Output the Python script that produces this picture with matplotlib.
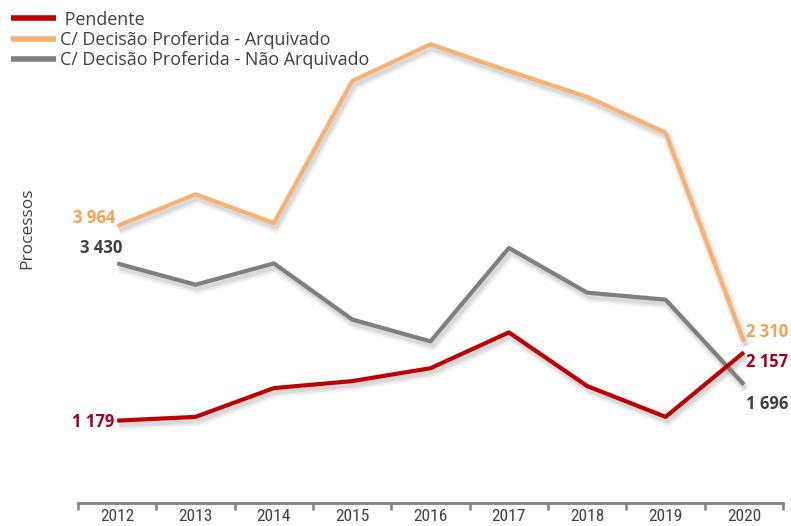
import matplotlib
matplotlib.use("Agg")
import matplotlib.pyplot as plt
import matplotlib.patheffects as pe

years = ["2012", "2013", "2014", "2015", "2016", "2017", "2018", "2019", "2020"]
pendente = [1179, 1233, 1645, 1745, 1930, 2442, 1674, 1233, 2157]
arquivado = [3964, 4419, 4007, 6041, 6567, 6183, 5813, 5301, 2310]
nao_arquivado = [3430, 3125, 3430, 2627, 2314, 3651, 3011, 2911, 1696]

series_names = [" Pendente", "C/ Decisão Proferida - Arquivado", "C/ Decisão Proferida - Não Arquivado"]
line_colors = ["#C00000", "#F9B172", "#7F7F7F"]
label_colors = ["#A50021", "#F7A253", "#404040"]

plt.rcParams['font.family'] = ['Open Sans', 'DejaVu Sans']

fig = plt.figure(figsize=(7.91, 5.26), dpi=100)
ax = fig.add_axes([0.0986, 0.0437, 0.8914, 0.9297])

x = list(range(len(years)))
shadow = [pe.SimpleLineShadow(offset=(1.5, -3.0), shadow_color='#808080', alpha=0.07, rho=1.0, linewidth=8),
          pe.SimpleLineShadow(offset=(1.5, -3.0), shadow_color='#808080', alpha=0.10, rho=1.0, linewidth=5.5),
          pe.SimpleLineShadow(offset=(1.5, -3.0), shadow_color='#808080', alpha=0.15, rho=1.0, linewidth=3),
          pe.Normal()]
all_series = [pendente, arquivado, nao_arquivado]
for idx in [1, 2, 0]:
    ax.plot(x, all_series[idx], color=line_colors[idx], lw=3.0, solid_capstyle='butt',
            label=series_names[idx], path_effects=shadow, zorder=3 + (idx == 0))

ax.set_xlim(-0.5, len(years) - 0.5)
ax.set_ylim(0, 7000)
ax.set_xticks([i - 0.5 for i in range(len(years) + 1)])
ax.set_xticklabels([])
ax.set_xticks(x, minor=True)
ax.set_xticklabels(years, minor=True, fontsize=12.5, color='#404040', family=['Roboto Condensed', 'Roboto', 'DejaVu Sans'])
ax.tick_params(axis='x', which='major', length=5, width=1.8, color='#808080', direction='out')
ax.tick_params(axis='x', which='minor', length=0, pad=4)
ax.set_yticks([])
for s in ['top', 'right', 'left']:
    ax.spines[s].set_visible(False)
ax.spines['bottom'].set_color('#808080')
ax.spines['bottom'].set_linewidth(2)
ax.patch.set_alpha(0)

fig.text(0.034, 0.567, "Processos", rotation=90, fontsize=12.5, color='#404040', ha='center', va='center')

def fmt(v):
    return f"{v:,}".replace(",", " ")

fs = 12
ax.annotate(fmt(arquivado[0]), (0, arquivado[0]), xytext=(-2, 8), textcoords='offset pixels',
            ha='right', va='center', fontsize=fs, fontweight='bold', color=label_colors[1])
ax.annotate(fmt(nao_arquivado[0]), (0, nao_arquivado[0]), xytext=(5, 15), textcoords='offset pixels',
            ha='right', va='center', fontsize=fs, fontweight='bold', color=label_colors[2])
ax.annotate(fmt(pendente[0]), (0, pendente[0]), xytext=(-3, -1), textcoords='offset pixels',
            ha='right', va='center', fontsize=fs, fontweight='bold', color=label_colors[0])
n = len(years) - 1
ax.annotate(fmt(arquivado[n]), (n, arquivado[n]), xytext=(2, 10), textcoords='offset pixels',
            ha='left', va='center', fontsize=fs, fontweight='bold', color=label_colors[1])
ax.annotate(fmt(pendente[n]), (n, pendente[n]), xytext=(2, -10), textcoords='offset pixels',
            ha='left', va='center', fontsize=fs, fontweight='bold', color=label_colors[0])
ax.annotate(fmt(nao_arquivado[n]), (n, nao_arquivado[n]), xytext=(2, -19), textcoords='offset pixels',
            ha='left', va='center', fontsize=fs, fontweight='bold', color=label_colors[2])

handles, labels = ax.get_legend_handles_labels()
order = [labels.index(nm) for nm in series_names]
leg = fig.legend([handles[i] for i in order], [labels[i] for i in order],
                 loc='upper left', bbox_to_anchor=(0.0, 1.0), frameon=False,
                 fontsize=12.9, handlelength=2.5, handletextpad=0.25, labelspacing=0.12,
                 borderaxespad=0.3, borderpad=0.3)
for t in leg.get_texts():
    t.set_color('#404040')
for h in leg.legend_handles:
    h.set_linewidth(4)
    h.set_path_effects([])

fig.savefig("out.png", dpi=100)
